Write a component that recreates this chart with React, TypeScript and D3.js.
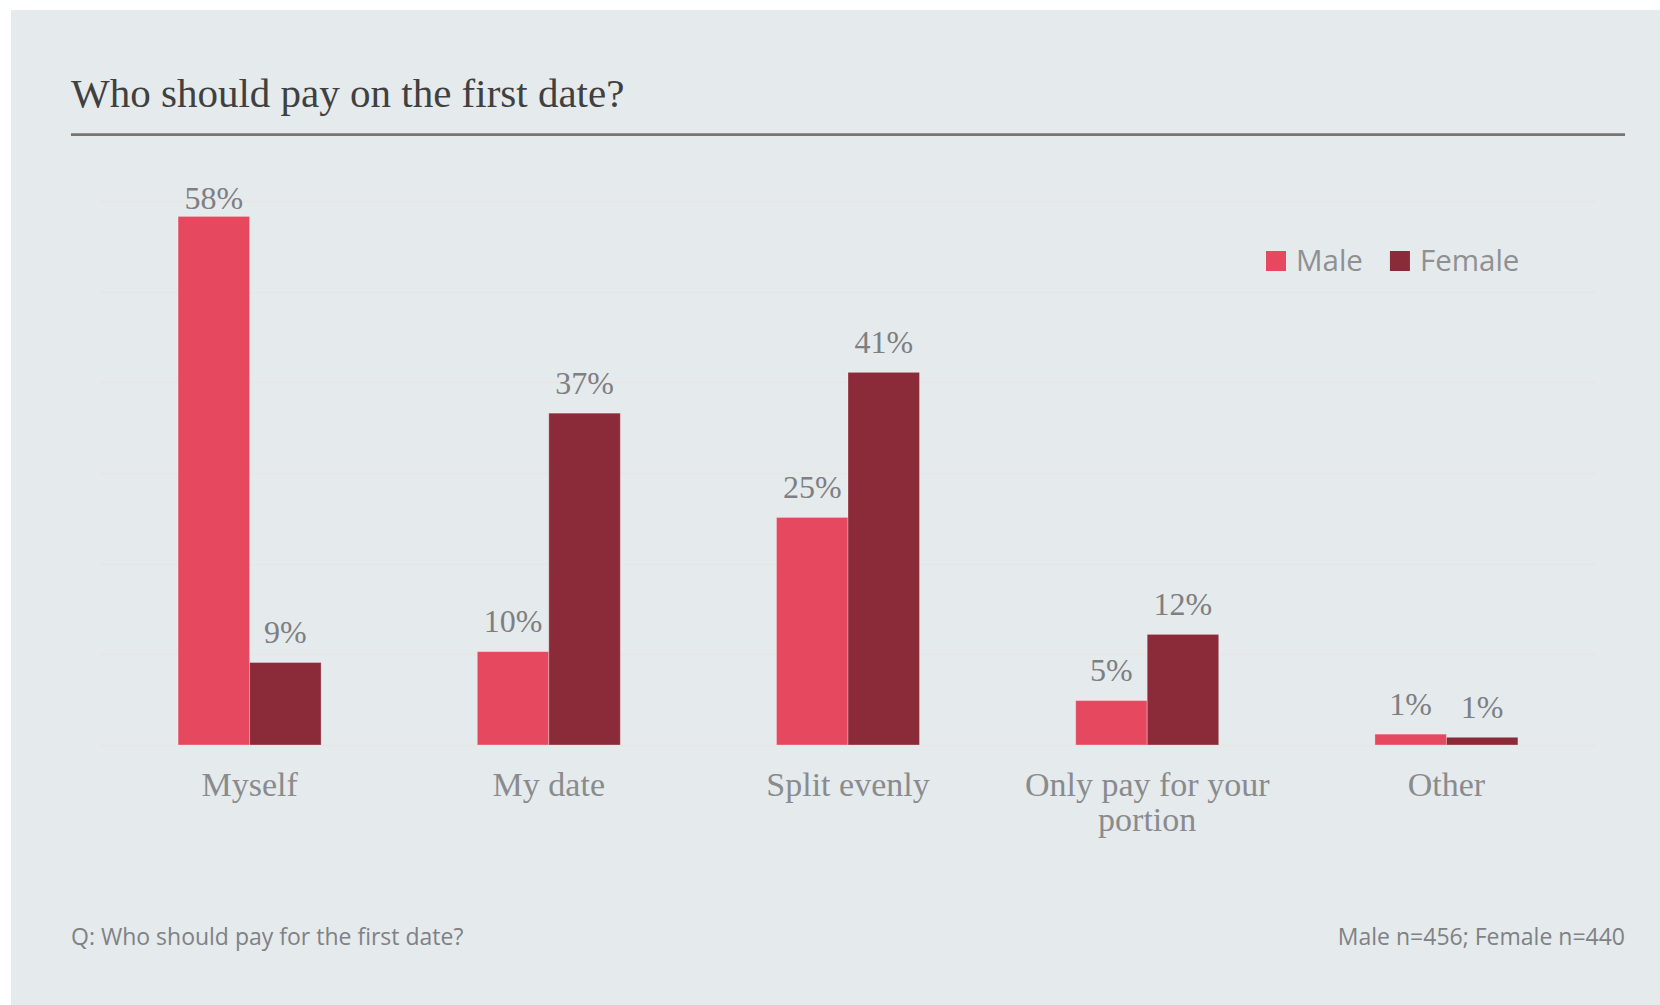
import React from "react";
import * as d3 from "d3";

const title = "Who should pay on the first date?";
const categories = ["Myself", "My date", "Split evenly", "Only pay for your portion", "Other"];
const seriesNames = ["Male", "Female"];
const maleValues = [58.3, 10.3, 25.1, 4.9, 1.2];
const femaleValues = [9.1, 36.6, 41.1, 12.2, 0.85];
const yTicks = [0, 10, 20, 30, 40, 50, 60];
const footLeft = "Q: Who should pay for the first date?";
const footRight = "Male n=456; Female n=440";
const seriesColors = ["#e5485f", "#8b2a38"];

const W = 1660;
const H = 1005;
const SERIF = "'Liberation Serif', 'Times New Roman', serif";
const SANS = "'Open Sans', 'Noto Sans', sans-serif";

function measure(text: string, font: string): number {
  const c = document.createElement("canvas");
  const ctx = c.getContext("2d")!;
  ctx.font = font;
  return ctx.measureText(text).width;
}

function wrap(text: string, font: string, maxW: number): string[] {
  const words = text.split(" ");
  const lines: string[] = [];
  let cur = "";
  for (const w of words) {
    const t = cur ? cur + " " + w : w;
    if (cur && measure(t, font) > maxW) {
      lines.push(cur);
      cur = w;
    } else cur = t;
  }
  if (cur) lines.push(cur);
  return lines;
}

export default function App() {
  const x0 = d3.scaleBand<string>().domain(categories).range([100, 1596]).paddingInner(0.522).paddingOuter(0.261);
  const x1 = d3.scaleBand<string>().domain(seriesNames).range([0, x0.bandwidth()]);
  const y = d3.scaleLinear().domain([0, 60]).range([745, 201]);
  const seriesValues = [maleValues, femaleValues];
  const catFontSize = 34;
  const catFont = `${catFontSize}px 'Liberation Serif'`;

  const legendSize = 29.5;
  const legendFont = `${legendSize}px 'Open Sans'`;
  let lx = 1266;
  const legendItems = seriesNames.map((name, i) => {
    const item = { name, x: lx, color: seriesColors[i] };
    lx += 30 + measure(name, legendFont) + 27;
    return item;
  });

  return (
    <svg width={W} height={H} style={{ position: "absolute", left: 0, top: 0 }}>
      <rect x={0} y={0} width={W} height={H} fill="#ffffff" />
      <rect x={11} y={10} width={W - 11} height={H - 10} fill="#e5eaed" />
      <text x={71} y={107} fontFamily={SERIF} fontSize={41} fill="#404040">{title}</text>
      <line x1={71} x2={1625} y1={134.7} y2={134.7} stroke="#7a756e" strokeWidth={2.7} />

      {yTicks.map((t) => (
        <line key={t} x1={100} x2={1596} y1={Math.round(y(t)) + 0.5} y2={Math.round(y(t)) + 0.5} stroke="#e8e6e2" strokeWidth={1.5} />
      ))}

      {categories.map((c, ci) => (
        <g key={c} transform={`translate(${x0(c)},0)`}>
          {seriesNames.map((s, si) => {
            const v = seriesValues[si][ci];
            const bx = x1(s)!;
            const by = y(v);
            const lyPos = Math.max(by - 19.5, y(60) + 8);
            return (
              <g key={s}>
                <rect x={bx} y={by} width={x1.bandwidth()} height={y(0) - by} fill={seriesColors[si]} stroke="rgba(255,255,255,0.3)" strokeWidth={1} />
                <text x={bx + x1.bandwidth() / 2} y={lyPos} textAnchor="middle" fontFamily={SERIF} fontSize={32} fill="#7e7f81">
                  {`${Math.round(v)}%`}
                </text>
              </g>
            );
          })}
          {wrap(c, catFont, x0.step()).map((line, li) => (
            <text key={li} x={x0.bandwidth() / 2} y={796 + li * 34.5} textAnchor="middle" fontFamily={SERIF} fontSize={catFontSize} fill="#8a8b8d">
              {line}
            </text>
          ))}
        </g>
      ))}

      {legendItems.map((it) => (
        <g key={it.name}>
          <rect x={it.x} y={251} width={20} height={20} fill={it.color} />
          <text x={it.x + 30} y={271} fontFamily={SANS} fontSize={legendSize} fill="#8f9092">{it.name}</text>
        </g>
      ))}

      <text x={71} y={945} fontFamily={SANS} fontSize={23} fill="#808184">{footLeft}</text>
      <text x={1625} y={945} textAnchor="end" fontFamily={SANS} fontSize={23} fill="#808184">{footRight}</text>
    </svg>
  );
}
